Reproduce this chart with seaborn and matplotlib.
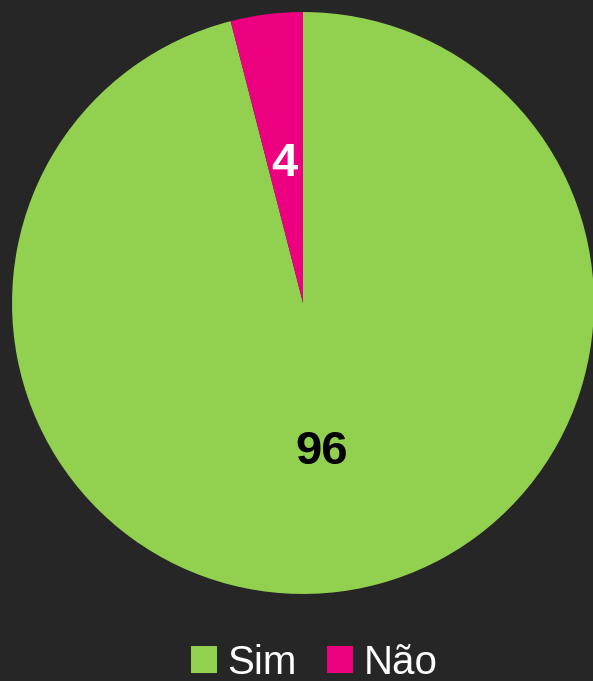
import matplotlib.pyplot as plt
import seaborn as sns
from matplotlib.patches import Patch

# data
categories = ["Sim", "Não"]
values = [96, 4]
colors = ["#92D050", "#EC0080"]
label_colors = ["black", "white"]

sns.set_theme(style="dark")
plt.rcParams["font.family"] = ["Liberation Sans", "DejaVu Sans"]

W, H = 593, 681
fig = plt.figure(figsize=(W / 100, H / 100), dpi=100, facecolor="#262626")
# square axes centred on the pie (pixel based)
S = 593.6
ax = fig.add_axes([(303 - S / 2) / W, (H - 303 - S / 2) / H, S / W, S / H])
ax.set_facecolor("#262626")

wedges, texts = ax.pie(
    values,
    colors=colors,
    startangle=90,
    counterclock=False,
    labels=[str(v) for v in values],
    labeldistance=0.5,
    radius=1.0,
    wedgeprops=dict(linewidth=0),
    textprops=dict(fontsize=34, fontweight="bold"),
)
for t, c in zip(texts, label_colors):
    t.set_color(c)
    t.set_horizontalalignment("center")
    t.set_verticalalignment("center_baseline")
ax.set_aspect("equal")
ax.set_xlim(-1.02, 1.02)
ax.set_ylim(-1.02, 1.02)
ax.axis("off")

handles = [Patch(facecolor=c, edgecolor="none") for c in colors]
fig.legend(
    handles, categories,
    loc="center", bbox_to_anchor=(0.53, 0.027),
    ncol=2, frameon=False, fontsize=29, labelcolor="white",
    handlelength=0.65, handleheight=0.65, handletextpad=0.25, columnspacing=0.75,
)

fig.savefig("out.png", dpi=100, facecolor=fig.get_facecolor())
